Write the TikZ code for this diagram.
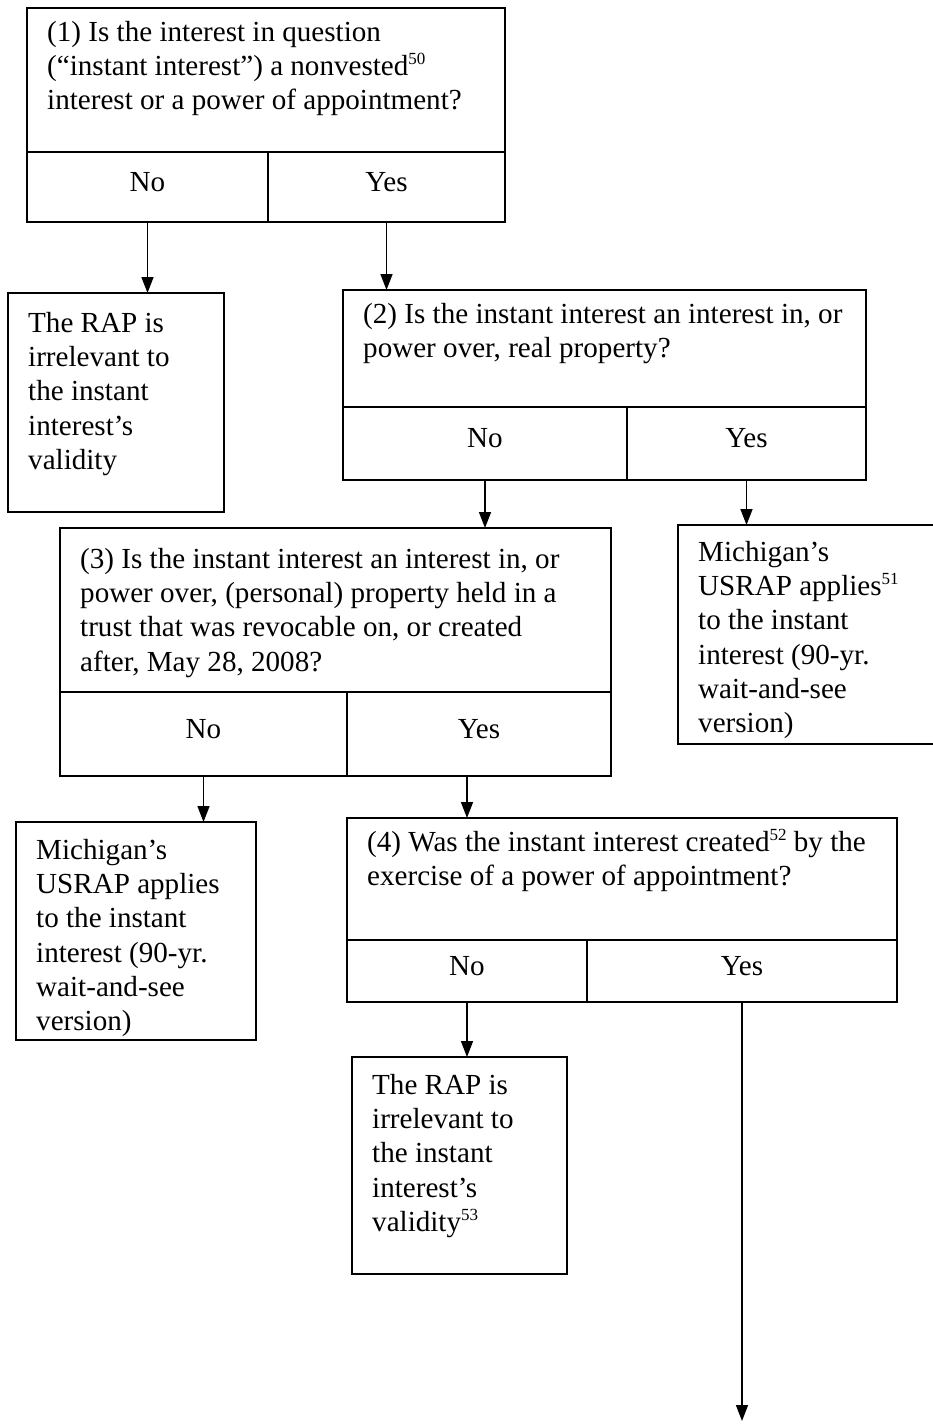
\documentclass[tikz,border=0pt]{standalone}
\usepackage{fontspec}
\setmainfont{Liberation Serif}
\usetikzlibrary{arrows.meta}
\newcommand{\supnum}[1]{\raisebox{11pt}{\fontsize{17}{17}\selectfont #1}}
\begin{document}
\begin{tikzpicture}[x=1pt,y=-1pt,
  every node/.style={font=\fontsize{29.1}{34.3}\selectfont},
  frame/.style={draw, line width=1.5pt, anchor=north west, inner sep=0pt, outer sep=0pt},
  txt/.style={anchor=north west, align=left, inner xsep=20pt, inner ysep=9pt},
  cell/.style={draw, line width=1.5pt, anchor=north west, inner sep=0pt, outer sep=0pt, text height=18pt, text depth=10pt},
  arr/.style={line width=1.5pt, -{Triangle[width=12pt,length=16pt]}}
]
\useasboundingbox (0,0) rectangle (933,1424);
\fill[white] (0,0) rectangle (933,1424);

% Question 1
\node[frame, minimum width=478pt, minimum height=144pt] (q1) at (27,8) {};
\node[txt] (q1t) at (q1.north west) {\strut(1) Is the interest in question\\(“instant interest”) a nonvested\supnum{50}\\interest or a power of appointment?};
\node[cell, minimum width=241pt, minimum height=70pt] (n1) at (27,152) {No};
\node[cell, minimum width=237pt, minimum height=70pt] (y1) at (268,152) {Yes};

% Result RAP 1
\node[frame, minimum width=216pt, minimum height=219pt] (rap1) at (8,293) {};
\node[txt, yshift=-6pt] (rap1t) at (rap1.north west) {\strut The RAP is\\irrelevant to\\the instant\\interest’s\\validity};

% Question 2
\node[frame, minimum width=523pt, minimum height=117pt] (q2) at (343,290) {};
\node[txt] (q2t) at (q2.north west) {\strut(2) Is the instant interest an interest in, or\\power over, real property?};
\node[cell, minimum width=284pt, minimum height=73pt] (n2) at (343,407) {No};
\node[cell, minimum width=239pt, minimum height=73pt] (y2) at (627,407) {Yes};

% Michigan right
\node[frame, minimum width=272pt, minimum height=219pt] (mr) at (678,525) {};
\node[txt, yshift=-3pt] (mrt) at (mr.north west) {\strut Michigan’s\\USRAP applies\supnum{51}\\to the instant\\interest (90-yr.\\wait-and-see\\version)};

% Question 3
\node[frame, minimum width=551pt, minimum height=164pt] (q3) at (60,528) {};
\node[txt, yshift=-7pt] (q3t) at (q3.north west) {\strut(3) Is the instant interest an interest in, or\\power over, (personal) property held in a\\trust that was revocable on, or created\\after, May 28, 2008?};
\node[cell, minimum width=287pt, minimum height=84pt] (n3) at (60,692) {No};
\node[cell, minimum width=264pt, minimum height=84pt] (y3) at (347,692) {Yes};

% Michigan left
\node[frame, minimum width=240pt, minimum height=218pt] (ml) at (16,822) {};
\node[txt, yshift=-4pt] (mlt) at (ml.north west) {\strut Michigan’s\\USRAP applies\\to the instant\\interest (90-yr.\\wait-and-see\\version)};

% Question 4
\node[frame, minimum width=550pt, minimum height=122pt] (q4) at (347,818) {};
\node[txt] (q4t) at (q4.north west) {\strut(4) Was the instant interest created\supnum{52} by the\\exercise of a power of appointment?};
\node[cell, minimum width=240pt, minimum height=62pt] (n4) at (347,940) {No};
\node[cell, minimum width=310pt, minimum height=62pt] (y4) at (587,940) {Yes};

% Result RAP 2
\node[frame, minimum width=215pt, minimum height=217pt] (rap2) at (352,1057) {};
\node[txt, yshift=-4pt] (rap2t) at (rap2.north west) {\strut The RAP is\\irrelevant to\\the instant\\interest’s\\validity\supnum{53}};

\coordinate (end) at (y4.south |- 0,1421);

% Connectors
\draw[arr] (n1.south) -- (n1.south |- rap1.north);
\draw[arr] (y1.south) -- (y1.south |- q2.north);
\draw[arr] (n2.south) -- (n2.south |- q3.north);
\draw[arr] (y2.south) -- (y2.south |- mr.north);
\draw[arr] (n3.south) -- (n3.south |- ml.north);
\draw[arr] (y3.south -| n4.south) -- (q4.north -| n4.south);
\draw[arr] (n4.south) -- (n4.south |- rap2.north);
\draw[arr] (y4.south) -- (end);
\end{tikzpicture}
\end{document}
